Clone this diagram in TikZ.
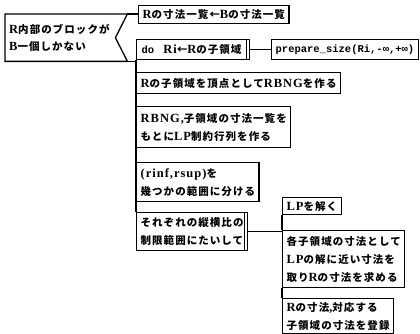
\documentclass[tikz,border=0pt]{standalone}
\usepackage{fontspec}
\setmainfont{Liberation Serif}
\setmonofont{Liberation Mono}
\newfontfamily\jpf[LetterSpace=10]{Noto Sans CJK JP}
\newfontfamily\latf[LetterSpace=8]{Liberation Serif}
\newcommand\J[1]{{\jpf\bfseries #1}}
\newcommand\E[1]{{\fontsize{12.5}{18}\selectfont\latf\bfseries #1}}
\newcommand\M[1]{{\ttfamily\bfseries #1}}
\begin{document}
\begin{tikzpicture}[x=1pt,y=-1pt,
  ln/.style={line width=1.3pt},
  box/.style={draw, line width=1.3pt, anchor=north west, align=left,
    inner xsep=4pt, inner ysep=0pt, font=\fontsize{10.5}{18}\selectfont}]
\useasboundingbox (0,0) rectangle (420,334);
% selection
\node[anchor=north west, minimum width=122pt, minimum height=47pt, text width=114pt,
  inner xsep=4pt, inner ysep=0pt, align=left, font=\fontsize{10.5}{17}\selectfont]
  (sel) at (5,14) {\E{R}\J{内部のブロックが}\\\E{B}\J{一個しかない}};
\draw[ln] (sel.north west) -- (sel.north east) -- ([xshift=-12pt]sel.east)
  -- (sel.south east) -- (sel.south west) -- cycle;
% branches
\node[box, minimum height=18pt] (A) at (138,5) {\E{R}\J{の寸法一覧←}\E{B}\J{の寸法一覧}};
\node[box, minimum height=20pt, inner xsep=5pt] (do) at (136,39) {\M{do}\hspace{9pt}\E{Ri}\J{←}\E{R}\J{の子領域}\hspace{3pt}};
\node[box, minimum height=20pt] (prep) at (271,39) {\M{prepare\_size(Ri,-∞,+∞)}};
\node[box, minimum height=21pt] (C) at (136,72) {\E{R}\J{の子領域を頂点として}\E{RBNG}\J{を作る}};
\node[box, minimum height=41pt] (D) at (136,106) {\E{RBNG,}\J{子領域の寸法一覧を}\\\J{もとに}\E{LP}\J{制約行列を作る}};
\node[box, minimum height=39pt] (E) at (136,162) {\E{(rinf,rsup)}\J{を}\\\J{幾つかの範囲に分ける}};
\node[box, minimum height=38pt] (F) at (136,212) {\J{それぞれの縦横比の}\hspace{4pt}\\\J{制限範囲にたいして}\hspace{4pt}};
\node[box, minimum height=17pt] (G) at (282,197) {\E{LP}\J{を解く}};
\node[box, minimum height=57pt] (H) at (282,230) {\J{各子領域の寸法として}\\\E{LP}\J{の解に近い寸法を}\\\J{取り}\E{R}\J{の寸法を求める}};
\node[box, minimum height=35pt] (I) at (282,298) {\E{R}\J{の寸法}\E{,}\J{対応する}\\\J{子領域の寸法を登録}};
% connectors
\draw[ln] (sel.north east) -- (sel.north east -| A.west);
\draw[ln] (sel.south east) -- (sel.south east -| do.west);
\draw[ln] (do.east) -- (prep.west);
\draw[ln] (do.south west) -- (F.north west);
\draw[ln] (F.east) -- (F.east -| H.west);
\draw[ln] (G.south west) -- (H.north west);
\draw[ln] (H.south west) -- (I.north west);
% loop marks
\draw[ln] ([xshift=-3.5pt]do.north east) -- ([xshift=-3.5pt]do.south east);
\draw[ln] ([xshift=-4pt]F.north east) -- ([xshift=-4pt]F.south east);
\end{tikzpicture}
\end{document}
